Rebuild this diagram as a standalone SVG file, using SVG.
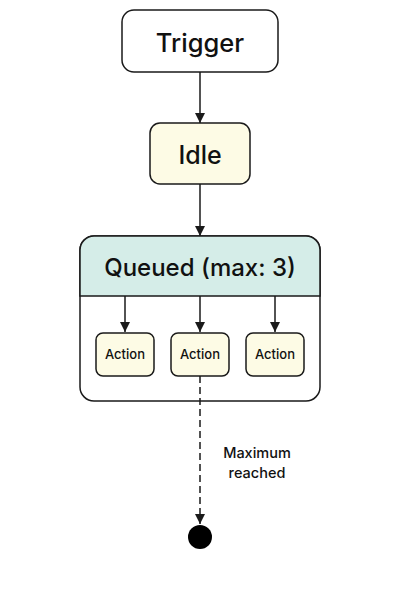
<svg xmlns="http://www.w3.org/2000/svg" width="400" height="600" viewBox="0 0 400 600">
<style>
.box{stroke:#1a1a1a;stroke-width:1.5}
.t{font-family:Inter,"Liberation Sans",sans-serif;font-weight:500;fill:#111;text-anchor:middle;dominant-baseline:central}
.edge{stroke:#1a1a1a;stroke-width:1.5;fill:none}
</style>
<defs>
<marker id="arr" viewBox="0 0 10 10" refX="10" refY="5" markerWidth="10" markerHeight="10" markerUnits="userSpaceOnUse" orient="auto">
<path d="M0,0 L10,5 L0,10 Z" fill="#1a1a1a"/>
</marker>
</defs>
<rect width="400" height="600" fill="#fff"/>
<g id="trigger">
<rect class="box" x="122" y="10" width="156" height="62" rx="12" fill="#fff"/>
<text class="t" x="200" y="42" font-size="25.5">Trigger</text>
</g>
<g id="idle">
<rect class="box" x="150" y="123" width="100" height="61" rx="10" fill="#fdfbe5"/>
<text class="t" x="200" y="155" font-size="25">Idle</text>
</g>
<g id="queued">
<rect class="box" x="80" y="236" width="240" height="165" rx="14" fill="#fff"/>
<path d="M80,296 V250 A14,14 0 0 1 94,236 H306 A14,14 0 0 1 320,250 V296 Z" fill="#d5ede8" stroke="#1a1a1a" stroke-width="1.5"/>
<text class="t" x="200" y="267" font-size="24">Queued (max: 3)</text>
</g>
<g id="action1">
<rect class="box" x="96" y="333" width="58" height="43" rx="7" fill="#fdfbe5"/>
<text class="t" x="125" y="354" font-size="13">Action</text>
</g>
<g id="action2">
<rect class="box" x="171" y="333" width="58" height="43" rx="7" fill="#fdfbe5"/>
<text class="t" x="200" y="354" font-size="13">Action</text>
</g>
<g id="action3">
<rect class="box" x="246" y="333" width="58" height="43" rx="7" fill="#fdfbe5"/>
<text class="t" x="275" y="354" font-size="13">Action</text>
</g>
<g id="final">
<circle cx="200" cy="537" r="12" fill="#000"/>
</g>
<g id="connectors">
<line class="edge" x1="200" y1="72" x2="200" y2="123" marker-end="url(#arr)"/>
<line class="edge" x1="200" y1="184" x2="200" y2="236" marker-end="url(#arr)"/>
<line class="edge" x1="125" y1="296" x2="125" y2="332" marker-end="url(#arr)"/>
<line class="edge" x1="200" y1="296" x2="200" y2="332" marker-end="url(#arr)"/>
<line class="edge" x1="275" y1="296" x2="275" y2="332" marker-end="url(#arr)"/>
<line class="edge" x1="200" y1="376" x2="200" y2="524" stroke-dasharray="7,4" marker-end="url(#arr)"/>
<text class="t" x="257" y="452" font-size="14.5">Maximum</text>
<text class="t" x="257" y="472" font-size="14.5">reached</text>
</g>
</svg>
